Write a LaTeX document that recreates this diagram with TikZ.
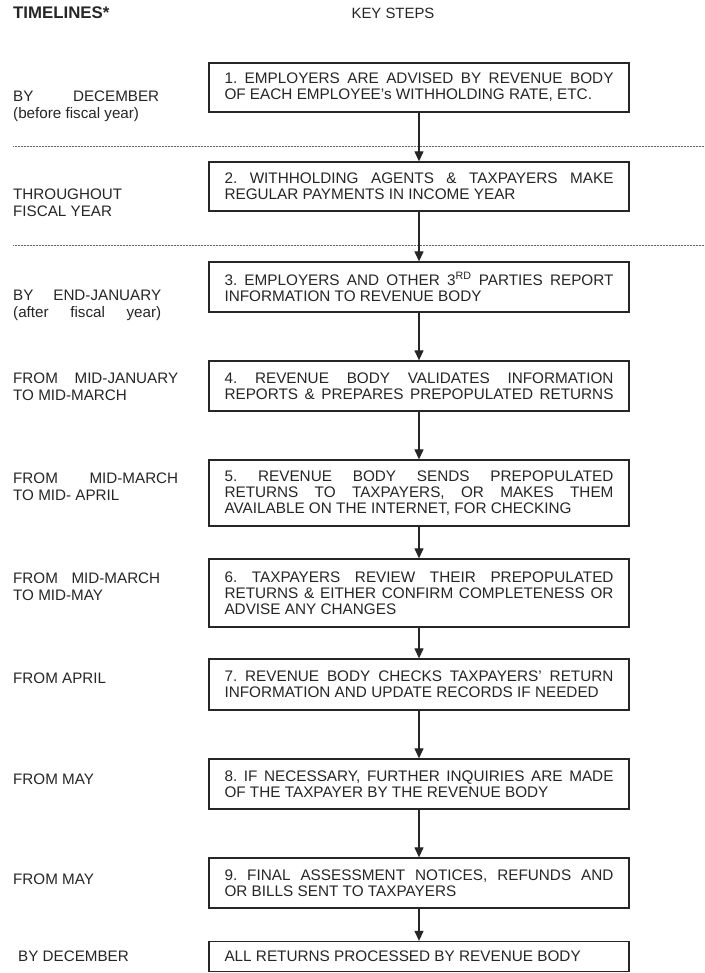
\documentclass[tikz,border=0pt]{standalone}
\usepackage{fontspec}
\setmainfont{Liberation Sans}
\usetikzlibrary{arrows.meta}
\newcommand{\jb}[1]{{\spaceskip=0pt\xspaceskip=0pt\frenchspacing\makebox[389pt][s]{#1}}}
\newcommand{\jw}[2]{{\spaceskip=0pt\xspaceskip=0pt\frenchspacing\makebox[#1][s]{#2}}}
\definecolor{ink}{gray}{0.15}
\begin{document}
\begin{tikzpicture}[x=1pt,y=-1pt,
  stepbox/.style={draw=ink, line width=1.3pt, text width=389pt, inner xsep=15.5pt, inner ysep=0pt,
    align=left, font=\fontsize{15.3}{16}\selectfont, text=ink, anchor=center,
    execute at begin node={\spaceskip=0pt\xspaceskip=0pt\frenchspacing}},
  tl/.style={anchor=west, align=left, inner sep=0pt, font=\fontsize{15.2}{17}\selectfont, text=ink,
    execute at begin node={\spaceskip=0pt\xspaceskip=0pt\frenchspacing}},
  arr/.style={draw=ink, line width=1.2pt, -{Triangle[length=10pt,width=9pt]}},
  sep/.style={draw=black!60, line width=1pt, dash pattern=on 0.9pt off 0.6pt}]
\useasboundingbox[fill=white] (0,0) rectangle (704,973);

% headers
\node[anchor=west, inner sep=0pt, font=\bfseries\fontsize{16.8}{18}\selectfont, text=ink] (hdrL) at (13,13) {TIMELINES*};
\node[inner sep=0pt, font=\fontsize{14.9}{17}\selectfont, text=ink] (hdrR) at (393,13) {KEY STEPS};

% separators
\coordinate (s1a) at (13,147); \coordinate (s1b) at (704,147);
\coordinate (s2a) at (13,246); \coordinate (s2b) at (704,246);
\draw[sep] (s1a) -- (s1b);
\draw[sep] (s2a) -- (s2b);

% key steps
\node[stepbox, minimum height=49pt] (b1) at (419,87.5)
  {\jb{1. EMPLOYERS ARE ADVISED BY REVENUE BODY}\\OF EACH EMPLOYEE's WITHHOLDING RATE, ETC.};
\node[stepbox, minimum height=49pt] (b2) at (419,186.5)
  {\jb{2. WITHHOLDING AGENTS \& TAXPAYERS MAKE}\\REGULAR PAYMENTS IN INCOME YEAR};
\node[stepbox, minimum height=50pt] (b3) at (419,287)
  {\jb{3. EMPLOYERS AND OTHER 3\textsuperscript{RD} PARTIES REPORT}\\INFORMATION TO REVENUE BODY};
\node[stepbox, minimum height=50pt] (b4) at (419,386)
  {\jb{4. REVENUE BODY VALIDATES INFORMATION}\\\jb{REPORTS \& PREPARES PREPOPULATED RETURNS}};
\node[stepbox, minimum height=66pt] (b5) at (419,493)
  {\jb{5. REVENUE BODY SENDS PREPOPULATED}\\\jb{RETURNS TO TAXPAYERS, OR MAKES THEM}\\AVAILABLE ON THE INTERNET, FOR CHECKING};
\node[stepbox, minimum height=68pt] (b6) at (419,593)
  {\jb{6. TAXPAYERS REVIEW THEIR PREPOPULATED}\\\jb{RETURNS \& EITHER CONFIRM COMPLETENESS OR}\\ADVISE ANY CHANGES};
\node[stepbox, minimum height=51pt] (b7) at (419,684.5)
  {\jb{7. REVENUE BODY CHECKS TAXPAYERS' RETURN}\\INFORMATION AND UPDATE RECORDS IF NEEDED};
\node[stepbox, minimum height=50pt] (b8) at (419,784)
  {\jb{8. IF NECESSARY, FURTHER INQUIRIES ARE MADE}\\OF THE TAXPAYER BY THE REVENUE BODY};
\node[stepbox, minimum height=50pt] (b9) at (419,883)
  {\jb{9. FINAL ASSESSMENT NOTICES, REFUNDS AND}\\OR BILLS SENT TO TAXPAYERS};
\node[stepbox, minimum height=30pt] (b10) at (419,956.5)
  {ALL RETURNS PROCESSED BY REVENUE BODY};

% arrows
\draw[arr] (b1.south) -- (b2.north);
\draw[arr] (b2.south) -- (b3.north);
\draw[arr] (b3.south) -- (b4.north);
\draw[arr] (b4.south) -- (b5.north);
\draw[arr] (b5.south) -- (b6.north);
\draw[arr] (b6.south) -- (b7.north);
\draw[arr] (b7.south) -- (b8.north);
\draw[arr] (b8.south) -- (b9.north);
\draw[arr] (b9.south) -- (b10.north);

% timelines
\node[tl] (t1) at (13,106) {\jw{146pt}{BY DECEMBER}\\(before fiscal year)};
\node[tl] (t2) at (13,203) {THROUGHOUT\\FISCAL YEAR};
\node[tl] (t3) at (13,305.5) {\jw{148pt}{BY END-JANUARY}\\\jw{148pt}{(after fiscal year)}};
\node[tl] (t4) at (13,386.5) {\jw{165pt}{FROM MID-JANUARY}\\TO MID-MARCH};
\node[tl] (t5) at (13,487) {\jw{165pt}{FROM MID-MARCH}\\TO MID- APRIL};
\node[tl] (t6) at (13,587) {\jw{147pt}{FROM MID-MARCH}\\TO MID-MAY};
\node[tl] (t7) at (13,678) {FROM APRIL};
\node[tl] (t8) at (13,779) {FROM MAY};
\node[tl] (t9) at (13,879) {FROM MAY};
\node[tl] (t10) at (18,956) {BY DECEMBER};
\end{tikzpicture}
\end{document}
